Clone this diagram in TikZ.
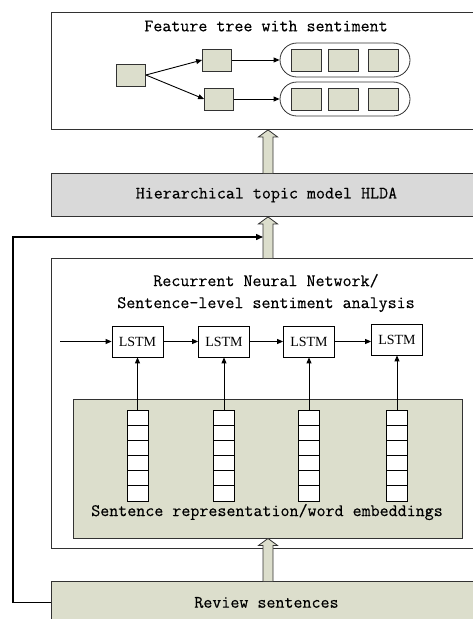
\documentclass[tikz,border=0pt]{standalone}
\usepackage{fontspec}
\usetikzlibrary{arrows.meta}
\usetikzlibrary{positioning, calc}
\newfontfamily\lstmfont{Liberation Serif}
\newfontfamily\labelfont[FakeBold=0.3]{Latin Modern Mono}
\definecolor{sage}{RGB}{220,222,204}
\definecolor{hgray}{RGB}{217,217,217}
\definecolor{edge}{RGB}{50,50,50}

% hollow block arrow: from (#1) up to tip (#2)
\newcommand{\fatarrow}[2]{%
  \draw[fat] ($(#1)+(-5,0)$) -- ($(#2)+(-5,7)$) -- ($(#2)+(-9.5,7)$) -- (#2)
    -- ($(#2)+(9.5,7)$) -- ($(#2)+(5,7)$) -- ($(#1)+(5,0)$);}

\begin{document}
\begin{tikzpicture}[
    x=1pt, y=-1pt,
    panel/.style={draw=edge, line width=0.9pt, anchor=north west, inner sep=0pt},
    leaf/.style={draw=edge, fill=sage, line width=0.8pt, minimum width=29pt, minimum height=22pt, inner sep=0pt},
    pill/.style={draw=edge, line width=0.8pt, rounded corners=17pt, minimum width=130pt, minimum height=34pt, inner sep=0pt},
    lstm/.style={draw=black, line width=0.8pt, minimum width=51pt, minimum height=31pt, inner sep=0pt, font=\lstmfont\fontsize{14}{16}\selectfont},
    cell/.style={draw=black, fill=white, line width=0.8pt, minimum width=21pt, minimum height=15.17pt, inner sep=0pt},
    title/.style={font=\labelfont\fontsize{17.5}{22}\selectfont, inner sep=0pt},
    fat/.style={draw=edge, fill=sage, line width=0.8pt},
    link/.style={line width=0.9pt, ->},
    feedback/.style={draw=black, line width=1.4pt, -{Triangle[length=7pt, width=6pt]}},
    >={Triangle[length=6pt, width=5pt]}
]
\useasboundingbox (0,0) rectangle (473,619);
\clip (0,0) rectangle (473,619);

% --- Panels ---
\node[panel, minimum width=430pt, minimum height=117pt] (tree) at (51,12) {};
\node[panel, title, fill=hgray, minimum width=430pt, minimum height=43pt] (hlda) at (51,173) {Hierarchical topic model HLDA};
\node[panel, minimum width=430pt, minimum height=290pt] (rnn) at (51,258) {};
\node[panel, title, fill=sage, minimum width=430pt, minimum height=42pt] (review) at (51,581) {Review sentences};
\node[draw=edge, line width=0.9pt, fill=sage, minimum width=389pt, minimum height=139pt] (emb) at (267.5,468.5) {};

% --- Titles ---
\node[title] (treetitle) at (266,26) {Feature tree with sentiment};
\node[title, align=center] (rnntitle) at (266,293) {Recurrent Neural Network/\\Sentence-level sentiment analysis};
\node[title] (embtitle) at (267,512) {Sentence representation/word embeddings};

% --- Feature tree ---
\node[leaf] (root) at (131,75) {};
\node[leaf] (f1) at (217,60) {};
\node[leaf] (f2) at (219,99) {};
\node[pill] (p1) at (345,60) {};
\node[pill] (p2) at (345,99) {};
\foreach \r/\y in {1/60, 2/99}
    \foreach \x [count=\k] in {306,343.5,383.5}
        \node[leaf, minimum width=30pt] (s\r\k) at (\x,\y) {};

\foreach \r in {1,2}
{
    \draw[link] (root.east) -- (f\r.west);
    \draw[link] (f\r.east) -- (p\r.west);
}

% --- LSTM chain ---
\foreach \i/\x/\y in {1/137.5/341.5, 2/224/341.5, 3/309/341.5, 4/397/339.5}
    \node[lstm] (l\i) at (\x,\y) {LSTM};
\coordinate (hin) at (60,341.5);
\draw[link] (hin) -- (l1.west);
\foreach \i [evaluate=\i as \j using int(\i+1)] in {1,2,3}
    \draw[link] (l\i.east) -- (l\i.east -| l\j.west);

% --- Word vectors ---
\foreach \i/\x in {1/137.5, 2/224, 3/309, 4/397}
{
    \foreach \j in {1,...,6}
        \node[cell] (v\i\j) at (\x,{410 + (\j-0.5)*15.17}) {};
    \draw[link] (v\i1.north) -- (l\i.south);
}

% --- Block arrows between layers ---
\coordinate (ax) at (268,0);
\fatarrow{ax |- hlda.north}{ax |- tree.south}
\fatarrow{ax |- rnn.north}{ax |- hlda.south}
\fatarrow{ax |- review.north}{ax |- emb.south}

% --- Feedback from reviews to topic model ---
\coordinate (fb) at (263,237);
\draw[feedback] (review.west) -- ++(-38,0) |- (fb);

\end{tikzpicture}
\end{document}
